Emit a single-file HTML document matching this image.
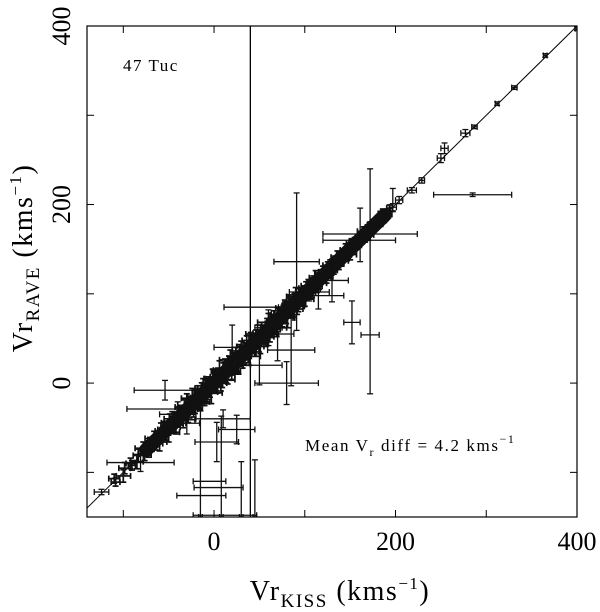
<!DOCTYPE html>
<html><head><meta charset="utf-8">
<style>
html,body{margin:0;padding:0;background:#fff;width:600px;height:612px;overflow:hidden}
svg{display:block}
text{font-family:"Liberation Serif",serif;fill:#000}
</style></head>
<body>
<svg id="chart" width="600" height="612" viewBox="0 0 600 612">
  <g id="marks"></g>
  <g id="axes"></g>
  <text x="123" y="71" font-size="17" letter-spacing="1.5">47 Tuc</text>
  <text x="305" y="451" font-size="17" letter-spacing="1.6">Mean V<tspan font-size="12" dy="5">r</tspan><tspan dy="-5"> diff = 4.2 kms</tspan><tspan font-size="12" dy="-8">−1</tspan></text>
  <text x="340" y="600" font-size="28" letter-spacing="1.5" text-anchor="middle">Vr<tspan font-size="19" dy="7">KISS</tspan><tspan dy="-7"> (kms</tspan><tspan font-size="17" dy="-11">−1</tspan><tspan dy="11">)</tspan></text>
  <text transform="translate(32,258) rotate(-90)" font-size="28" letter-spacing="1.5" text-anchor="middle">Vr<tspan font-size="19" dy="7">RAVE</tspan><tspan dy="-7"> (kms</tspan><tspan font-size="17" dy="-11">−1</tspan><tspan dy="11">)</tspan></text>
</svg>
<script>
const xTicks=[-100,0,100,200,300,400];
const yTicks=[-100,0,100,200,300,400];
const xTickLabels=["0","200","400"];
const yTickLabels=["0","200","400"];
// outlier / well-separated points
const ox=[285,172,152,172,91,85,80,172,160,161,197,-54,-81,-62,-15,8,30,45,-14,3,5,41,-124,400,365,331,312,287,277,250,254,229,218,204,197,20,60,105,115,130,-30,-40,10,25,50,70,-5,12];
const oy=[211,114,68,54,136,37,0,167,160,166,205,-8,-89,-29,-150,-150,-150,-150,-126,-66,-117,85,-122,397,367,331,313,287,280,252,263,227,216,205,197,40,62,102,98,115,-45,-35,-40,-52,20,55,-110,-148];
const oex=[43,0,9,10,25,26,35,52,40,0,0,34,37,34,2,2,2,2,27,24,27,30,8,2,2,3,2,3,5,4,4,3,5,4,4,20,15,22,28,18,14,20,30,20,25,18,18,35];
const oey=[2,126,24,0,77,40,24,0,0,30,13,11,10,0,136,113,62,64,0,22,0,0,3,2,2,2,2,2,4,5,6,3,3,4,4,25,20,10,15,24,12,14,10,16,22,30,0,0];
// dense band along the diagonal
const bx=[-110,-100,-92,-85,-78,-72,-66,-60,-55,-50,-46,-42,-38,-34,-30,-27,-24,-21,-18,-15,-12,-9,-6,-3,0,3,6,9,12,15,18,21,24,27,30,33,36,39,42,45,48,51,54,57,60,63,66,69,72,75,78,81,84,87,90,93,96,100,104,108,112,116,120,124,128,132,136,140,145,150,155,160,165,170,175,180,186,192];
const bdy=[3,-4,2,-3,5,-2,4,-6,3,-5,6,-3,2,-7,5,-2,7,-4,3,-6,6,-1,4,-8,5,-3,7,-5,2,-6,8,-2,4,-7,6,-3,5,-9,3,-4,7,-6,2,-5,8,-3,4,-7,5,-2,6,-8,3,-4,7,-5,2,-6,5,-3,6,-4,3,-5,4,-2,5,-3,4,-6,3,-2,5,-4,3,-2,4,-3];
const bex=[6,8,5,7,9,6,10,8,7,12,9,11,8,13,10,9,12,8,11,10,9,13,8,12,10,11,9,14,10,8,12,11,9,13,10,8,11,12,9,10,13,8,11,9,12,10,8,11,9,12,10,8,9,11,10,8,9,10,8,9,7,8,9,7,8,6,7,8,6,7,6,5,7,6,5,6,5,4];
const bey=[5,7,6,8,7,9,8,10,9,11,8,12,10,9,13,10,11,9,12,10,11,13,9,12,10,11,12,9,13,10,11,9,12,10,11,9,12,10,9,11,10,12,9,11,10,9,11,10,8,10,9,11,8,9,10,8,9,8,7,9,8,7,8,7,6,8,7,6,7,6,5,6,5,6,5,4,5,4];

const X0=87,X1=577,Y0=26,Y1=517;
const xmin=-140,xmax=400,ymin=-150,ymax=400;
const sx=v=>X0+(v-xmin)/(xmax-xmin)*(X1-X0);
const sy=v=>Y1-(v-ymin)/(ymax-ymin)*(Y1-Y0);
const NS="http://www.w3.org/2000/svg";
const marks=document.getElementById('marks');
const axes=document.getElementById('axes');
function mk(tag,attrs,parent){const e=document.createElementNS(NS,tag);for(const k in attrs)e.setAttribute(k,attrs[k]);parent.appendChild(e);return e;}

const defs=mk('defs',{},marks);
const cp=mk('clipPath',{id:'clip'},defs);
mk('rect',{x:X0,y:Y0,width:X1-X0,height:Y1-Y0},cp);
const g=mk('g',{'clip-path':'url(#clip)'},marks);

const diag=mk('line',{x1:sx(-140),y1:sy(-140),x2:sx(400),y2:sy(400),stroke:'#000','stroke-width':1},g);


const vl=mk('line',{x1:sx(40),y1:Y0,x2:sx(40),y2:Y1,stroke:'#000','stroke-width':1.3},g);



function errbar(x,y,ex,ey,name,w){
  const gg=mk('g',{stroke:'#111','stroke-width':w,fill:'none'},g);
  
  
  const cx=sx(x),cy=sy(y);
  const hx=ex*(X1-X0)/(xmax-xmin), hy=ey*(Y1-Y0)/(ymax-ymin);
  if(hx>0.5){
    mk('line',{x1:cx-hx,y1:cy,x2:cx+hx,y2:cy},gg);
    mk('line',{x1:cx-hx,y1:cy-3,x2:cx-hx,y2:cy+3},gg);
    mk('line',{x1:cx+hx,y1:cy-3,x2:cx+hx,y2:cy+3},gg);
  }
  if(hy>0.5){
    mk('line',{x1:cx,y1:cy-hy,x2:cx,y2:cy+hy},gg);
    mk('line',{x1:cx-3,y1:cy-hy,x2:cx+3,y2:cy-hy},gg);
    mk('line',{x1:cx-3,y1:cy+hy,x2:cx+3,y2:cy+hy},gg);
  }
}
for(let i=0;i<bx.length;i++){
  errbar(bx[i],bx[i]+bdy[i],bex[i],bey[i],'band-point',1.7);
  errbar(bx[i]+1.5,bx[i]+1.5-bdy[i]*0.8,bex[i]*0.8,bey[i]*0.9,'band-point',1.7);
}
const core=mk('line',{x1:sx(-75),y1:sy(-75),x2:sx(188),y2:sy(188),stroke:'#111','stroke-width':14,'stroke-linecap':'round'},g);


for(let i=0;i<ox.length;i++) errbar(ox[i],oy[i],oex[i],oey[i],'outlier-point',1.3);

const fr=mk('rect',{x:X0,y:Y0,width:X1-X0,height:Y1-Y0,fill:'none',stroke:'#000','stroke-width':1.2},axes);


xTicks.forEach(t=>{
  const x=sx(t);
  const a=mk('line',{x1:x,y1:Y1,x2:x,y2:Y1-7,stroke:'#000'},axes);
  
  
  mk('line',{x1:x,y1:Y0,x2:x,y2:Y0+7,stroke:'#000'},axes);
});
yTicks.forEach(t=>{
  const y=sy(t);
  const a=mk('line',{x1:X0,y1:y,x2:X0+7,y2:y,stroke:'#000'},axes);
  
  
  mk('line',{x1:X1,y1:y,x2:X1-7,y2:y,stroke:'#000'},axes);
});
xTickLabels.forEach(s=>{
  const t=mk('text',{x:sx(+s),y:550,'font-size':26,'text-anchor':'middle'},axes);
  t.textContent=s;
  
  
});
yTickLabels.forEach(s=>{
  const y=sy(+s);
  const t=mk('text',{transform:`translate(70,${y}) rotate(-90)`,'font-size':26,'text-anchor':'middle'},axes);
  t.textContent=s;
  
  
});
</script>
</body></html>
